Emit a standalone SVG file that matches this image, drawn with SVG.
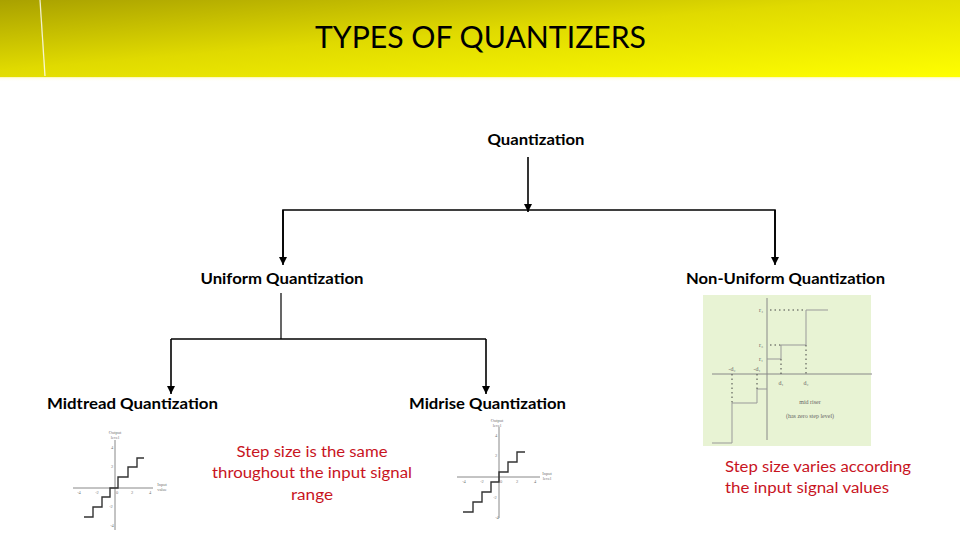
<svg xmlns="http://www.w3.org/2000/svg" width="960" height="540" viewBox="0 0 960 540">
<style>
.lbl{font-family:Lato,"Open Sans","Liberation Sans",sans-serif;font-size:15px;font-weight:bold;fill:#000;text-anchor:middle}
.red{font-family:Lato,"Open Sans","Liberation Sans",sans-serif;font-size:15.5px;fill:#c8141e}
.conn{stroke:#000;stroke-width:1.6;fill:none}
.ax{stroke:#888;stroke-width:1;fill:none}
.st{stroke:#333;stroke-width:1.4;fill:none}
.st2{stroke:#999;stroke-width:1;fill:none}
.dot{stroke:#444;stroke-width:1;stroke-dasharray:1.5 3;fill:none}
.tiny{font-family:"Liberation Serif",serif;font-size:4.5px;fill:#777;text-anchor:middle}
.tiny2{font-family:"Liberation Serif",serif;font-size:6px;fill:#666;text-anchor:middle}
</style>
<defs>
<linearGradient id="hdr" x1="0" y1="0" x2="1" y2="1">
<stop offset="0" stop-color="#a9a100"/>
<stop offset="0.45" stop-color="#e0da00"/>
<stop offset="1" stop-color="#ffff00"/>
</linearGradient>
<linearGradient id="glow" x1="0" y1="0" x2="0" y2="1">
<stop offset="0" stop-color="#fffbd0"/>
<stop offset="1" stop-color="#ffffff" stop-opacity="0"/>
</linearGradient>
<marker id="ah" viewBox="0 0 10 10" refX="10" refY="5" markerWidth="8" markerHeight="8" orient="auto" markerUnits="userSpaceOnUse">
<path d="M0,0 L10,5 L0,10 z" fill="#000"/>
</marker>
</defs>
<rect width="960" height="540" fill="#fff"/>
<g id="header">
<rect x="0" y="0" width="960" height="78" fill="url(#hdr)"/>
<rect x="0" y="77" width="960" height="5" fill="url(#glow)"/>
<line x1="40" y1="0" x2="45" y2="76" stroke="#fff" stroke-width="1.3" stroke-opacity="0.8"/>
<text x="480.5" y="48" font-family="Lato,'Open Sans','Liberation Sans',sans-serif" font-size="30" fill="#000" text-anchor="middle" textLength="331" lengthAdjust="spacingAndGlyphs">TYPES OF QUANTIZERS</text>
</g>
<g id="connectors">
<line class="conn" x1="528" y1="157" x2="528" y2="212" marker-end="url(#ah)"/>
<polyline class="conn" points="283,258 283,210 775,210 775,258"/>
<line class="conn" x1="283" y1="210" x2="283" y2="265" marker-end="url(#ah)"/>
<line class="conn" x1="775" y1="210" x2="775" y2="265" marker-end="url(#ah)"/>
<line x1="281" y1="293" x2="281" y2="339" stroke="#000" stroke-width="1.2"/>
<polyline class="conn" points="171,339 486,339"/>
<line class="conn" x1="171" y1="339" x2="171" y2="394" marker-end="url(#ah)"/>
<line class="conn" x1="486" y1="339" x2="486" y2="394" marker-end="url(#ah)"/>
</g>
<g id="n-quantization"><text class="lbl" x="536" y="145" textLength="97" lengthAdjust="spacingAndGlyphs">Quantization</text></g>
<g id="n-uniform"><text class="lbl" x="282" y="284" textLength="163" lengthAdjust="spacingAndGlyphs">Uniform Quantization</text></g>
<g id="n-nonuniform"><text class="lbl" x="785.5" y="284" textLength="199" lengthAdjust="spacingAndGlyphs">Non-Uniform Quantization</text></g>
<g id="n-midtread"><text class="lbl" x="132.5" y="409" textLength="171" lengthAdjust="spacingAndGlyphs">Midtread Quantization</text></g>
<g id="n-midrise"><text class="lbl" x="487.5" y="409" textLength="157" lengthAdjust="spacingAndGlyphs">Midrise Quantization</text></g>
<g id="note-uniform">
<text class="red" x="312" y="457" text-anchor="middle" textLength="151" lengthAdjust="spacingAndGlyphs">Step size is the same</text>
<text class="red" x="312" y="478" text-anchor="middle" textLength="200" lengthAdjust="spacingAndGlyphs">throughout the input signal</text>
<text class="red" x="312" y="500" text-anchor="middle" textLength="42" lengthAdjust="spacingAndGlyphs">range</text>
</g>
<g id="note-nonuniform">
<text class="red" x="725" y="472" textLength="186" lengthAdjust="spacingAndGlyphs">Step size varies according</text>
<text class="red" x="725" y="493" textLength="164" lengthAdjust="spacingAndGlyphs">the input signal values</text>
</g>
<g id="graph-midtread">
<line class="ax" x1="115" y1="440" x2="115" y2="530"/>
<line class="ax" x1="73" y1="488" x2="153" y2="488"/>
<text class="tiny" x="115" y="434">Output</text>
<text class="tiny" x="115" y="439">level</text>
<text class="tiny" x="112" y="449">4</text>
<text class="tiny" x="112" y="468">2</text>
<text class="tiny" x="111" y="508">-2</text>
<text class="tiny" x="112" y="527">-4</text>
<text class="tiny" x="79" y="494">-4</text>
<text class="tiny" x="97" y="494">-2</text>
<text class="tiny" x="117" y="494">0</text>
<text class="tiny" x="132" y="494">2</text>
<text class="tiny" x="150" y="494">4</text>
<text class="tiny" x="162" y="486">Input</text>
<text class="tiny" x="162" y="491">value</text>
<polyline class="st" points="84,517 93,517 93,507 102,507 102,497 110,497 110,488 118,488 118,477 128,477 128,467 137,467 137,458 144,458"/>
</g>
<g id="graph-midrise">
<line class="ax" x1="499" y1="427" x2="499" y2="518"/>
<line class="ax" x1="457" y1="477" x2="540" y2="477"/>
<text class="tiny" x="497" y="422">Output</text>
<text class="tiny" x="497" y="427">level</text>
<text class="tiny" x="496" y="437">4</text>
<text class="tiny" x="496" y="457">2</text>
<text class="tiny" x="495" y="499">-2</text>
<text class="tiny" x="497" y="519">-4</text>
<text class="tiny" x="464" y="483">-4</text>
<text class="tiny" x="482" y="483">-2</text>
<text class="tiny" x="501" y="483">0</text>
<text class="tiny" x="517" y="483">2</text>
<text class="tiny" x="535" y="483">4</text>
<text class="tiny" x="547" y="475">Input</text>
<text class="tiny" x="547" y="480">level</text>
<polyline class="st" points="463,512 473,512 473,502 482,502 482,492 491,492 491,482 499,482 499,472 508,472 508,462 517,462 517,452 525,452"/>
</g>
<g id="graph-nonuniform">
<rect x="703" y="295" width="168" height="151" fill="#e8f3d4"/>
<line class="ax" x1="767" y1="298" x2="767" y2="440" stroke="#777"/>
<line class="ax" x1="712" y1="374" x2="872" y2="374" stroke="#777"/>
<polyline class="st2" points="712,443 732,443 732,403 757,403 757,389 767,389"/>
<polyline class="st2" points="767,359 781,359 781,345 806,345 806,310 828,310"/>
<line class="dot" x1="770" y1="310" x2="806" y2="310"/>
<line class="dot" x1="770" y1="345" x2="781" y2="345"/>
<line class="dot" x1="806" y1="345" x2="806" y2="374"/>
<line class="dot" x1="781" y1="359" x2="781" y2="374"/>
<line class="dot" x1="732" y1="374" x2="732" y2="403"/>
<line class="dot" x1="757" y1="374" x2="757" y2="389"/>
<text class="tiny2" x="761" y="312">r₄</text>
<text class="tiny2" x="761" y="347">r₃</text>
<text class="tiny2" x="761" y="361">r₁</text>
<text class="tiny2" x="732" y="371">-d₂</text>
<text class="tiny2" x="757" y="371">-d₁</text>
<text class="tiny2" x="781" y="385">d₁</text>
<text class="tiny2" x="806" y="385">d₂</text>
<text class="tiny2" x="810" y="404">mid riser</text>
<text class="tiny2" x="810" y="418">(has zero step level)</text>
</g>
</svg>
